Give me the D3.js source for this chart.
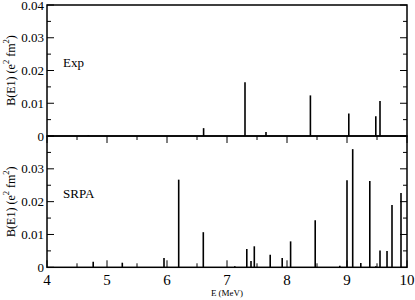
<!DOCTYPE html>
<html>
<head>
<meta charset="utf-8">
<script src="https://cdn.jsdelivr.net/npm/d3@7"></script>
<style>
  body { margin: 0; background: #fff; font-family: 'Liberation Serif', serif; }
</style>
</head>
<body>
<div id="chart"></div>
<script>
// energies (MeV) and strengths B(E1) (e^2 fm^2)
const expEnergy = [4.69, 6.61, 7.30, 7.65, 8.39, 9.03, 9.48, 9.55];
const expStrength = [0.0002, 0.0024, 0.0164, 0.0012, 0.0124, 0.0069, 0.0060, 0.0107];

const srpaEnergy = [4.77, 5.255, 5.95, 6.195, 6.605, 7.13, 7.33, 7.40, 7.455, 7.72, 7.92, 8.06,
  8.47, 8.88, 9.00, 9.095, 9.23, 9.38, 9.48, 9.55, 9.667, 9.75, 9.90];
const srpaStrength = [0.0017, 0.0014, 0.0028, 0.0267, 0.0107, 0.0003, 0.0056, 0.0019, 0.0064, 0.0038, 0.0028, 0.0079,
  0.0143, 0.0005, 0.0265, 0.0360, 0.0013, 0.0263, 0.0003, 0.0051, 0.0050, 0.0190, 0.0226];

const xTicks = [4, 5, 6, 7, 8, 9, 10];
const topYTicks = [0, 0.01, 0.02, 0.03, 0.04];
const botYTicks = [0, 0.01, 0.02, 0.03];

const width = 415, height = 300;
const left = 47, right = 407;
const serif = "'Liberation Serif', serif";
const panels = [
  { name: "Exp", energy: expEnergy, strength: expStrength, top: 5, bottom: 136, labels: topYTicks, xTicks: false },
  { name: "SRPA", energy: srpaEnergy, strength: srpaStrength, top: 136, bottom: 267.3, labels: botYTicks, xTicks: true }
];

const x = d3.scaleLinear().domain([4, 10]).range([left, right]);

const svg = d3.select("#chart").append("svg")
  .attr("width", width).attr("height", height)
  .style("display", "block")
  .style("font-family", serif);

const minorX = d3.range(4, 10.01, 0.5);
const minorY = d3.range(0, 0.0401, 0.005);

panels.forEach((p) => {
  const y = d3.scaleLinear().domain([0, 0.04]).range([p.bottom, p.top]);
  const g = svg.append("g");

  // spikes
  g.selectAll("line.spike")
    .data(p.energy.map((e, i) => ({ e, b: p.strength[i] })))
    .join("line")
    .attr("class", "spike")
    .attr("x1", (d) => x(d.e)).attr("x2", (d) => x(d.e))
    .attr("y1", y(0)).attr("y2", (d) => y(d.b))
    .attr("stroke", "#000").attr("stroke-width", 1.6);

  // y ticks, inward on both sides
  g.selectAll("line.yt")
    .data(minorY)
    .join("line")
    .attr("class", "yt")
    .attr("x1", left).attr("x2", (d, i) => left + (i % 2 ? 4 : 7))
    .attr("y1", (d) => y(d)).attr("y2", (d) => y(d))
    .attr("stroke", "#000");
  g.selectAll("line.yt2")
    .data(minorY)
    .join("line")
    .attr("class", "yt2")
    .attr("x1", right).attr("x2", (d, i) => right - (i % 2 ? 4 : 7))
    .attr("y1", (d) => y(d)).attr("y2", (d) => y(d))
    .attr("stroke", "#000");

  if (p.xTicks) {
    [p.bottom, p.top].forEach((yy, k) => {
      g.selectAll("line.xt" + k)
        .data(minorX)
        .join("line")
        .attr("class", "xt" + k)
        .attr("x1", (d) => x(d)).attr("x2", (d) => x(d))
        .attr("y1", yy)
        .attr("y2", (d, i) => yy + (k === 0 ? -1 : 1) * (i % 2 ? 4 : 7))
        .attr("stroke", "#000");
    });
    g.selectAll("text.xl")
      .data(xTicks)
      .join("text")
      .attr("class", "xl")
      .attr("x", (d) => x(d)).attr("y", p.bottom + 18)
      .attr("text-anchor", "middle")
      .style("font-family", serif)
      .attr("font-size", 15)
      .text((d) => d);
  }

  g.selectAll("text.yl")
    .data(p.labels)
    .join("text")
    .attr("class", "yl")
    .attr("x", left - 3).attr("y", (d) => y(d) + 4.5)
    .attr("text-anchor", "end")
    .style("font-family", serif)
    .attr("font-size", 13)
    .text((d) => d === 0 ? "0" : d.toFixed(2));

  // frame
  g.append("rect")
    .attr("x", left).attr("y", p.top)
    .attr("width", right - left).attr("height", p.bottom - p.top)
    .attr("fill", "none").attr("stroke", "#000").attr("stroke-width", 1.5);

  g.append("text")
    .attr("x", 63).attr("y", (p.top + p.bottom) / 2 - 4)
    .style("font-family", serif)
    .attr("font-size", 13)
    .text(p.name);

  // y axis title
  const t = g.append("text")
    .attr("transform", `translate(15,${(p.top + p.bottom) / 2}) rotate(-90)`)
    .attr("text-anchor", "middle")
    .style("font-family", serif)
    .attr("font-size", 12);
  t.append("tspan").text("B(E1) (e");
  t.append("tspan").attr("dy", -6).attr("font-size", 8.5).text("2");
  t.append("tspan").attr("dy", 6).text(" fm");
  t.append("tspan").attr("dy", -6).attr("font-size", 8.5).text("2");
  t.append("tspan").attr("dy", 6).text(")");
});

svg.append("text")
  .attr("x", x(7)).attr("y", 296)
  .attr("text-anchor", "middle")
  .style("font-family", serif)
  .attr("font-size", 9)
  .text("E (MeV)");
</script>
</body>
</html>
